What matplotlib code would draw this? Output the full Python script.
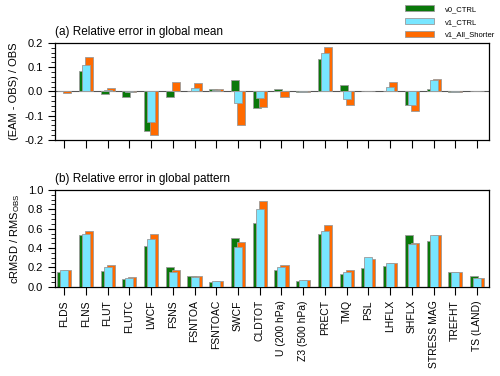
import numpy as np
import matplotlib
matplotlib.use('Agg')
import matplotlib.pyplot as plt
from matplotlib.ticker import MultipleLocator
from matplotlib.patches import Patch

plt.rcParams['font.family'] = ['Liberation Sans', 'DejaVu Sans']
plt.rcParams['mathtext.fontset'] = 'custom'
plt.rcParams['mathtext.rm'] = 'Liberation Sans'

# variables
variables = ['FLDS', 'FLNS', 'FLUT', 'FLUTC', 'LWCF', 'FSNS', 'FSNTOA', 'FSNTOAC',
             'SWCF', 'CLDTOT', 'U (200 hPa)', 'Z3 (500 hPa)', 'PRECT', 'TMQ', 'PSL',
             'LHFLX', 'SHFLX', 'STRESS MAG', 'TREFHT', 'TS (LAND)']

# (a) relative error in global mean
mean_v0 = [0.0, 0.085, -0.010, -0.025, -0.162, -0.025, 0.002, 0.010, 0.048, -0.068,
           0.009, -0.001, 0.133, 0.026, 0.0, 0.002, -0.057, 0.009, -0.001, 0.0]
mean_v1 = [0.0, 0.109, 0.006, -0.003, -0.125, 0.002, 0.014, 0.005, -0.049, -0.028,
           0.0, -0.001, 0.158, -0.032, 0.0, 0.020, -0.056, 0.045, -0.001, 0.0]
mean_short = [-0.006, 0.143, 0.015, -0.002, -0.180, 0.039, 0.035, 0.008, -0.138, -0.066,
              -0.024, -0.001, 0.181, -0.058, 0.0, 0.040, -0.080, 0.050, -0.001, 0.0]

# (b) relative error in global pattern
pat_v0 = [0.155, 0.533, 0.162, 0.080, 0.423, 0.200, 0.113, 0.055, 0.509, 0.660,
          0.179, 0.059, 0.543, 0.131, 0.196, 0.220, 0.533, 0.478, 0.155, 0.113]
pat_v1 = [0.172, 0.550, 0.200, 0.093, 0.490, 0.152, 0.103, 0.058, 0.412, 0.808,
          0.200, 0.069, 0.577, 0.155, 0.306, 0.251, 0.437, 0.540, 0.155, 0.093]
pat_short = [0.172, 0.571, 0.224, 0.097, 0.547, 0.172, 0.109, 0.058, 0.464, 0.887,
             0.224, 0.069, 0.636, 0.172, 0.289, 0.251, 0.457, 0.540, 0.155, 0.093]

labels = ['v0_CTRL', 'v1_CTRL', 'v1_All_Shorter']
colors = ['#0a780a', '#78e6ff', '#ff6a00']
edge = '#9a9a9a'

x = np.arange(len(variables))
w = 0.37
off = 0.14

fig = plt.figure(figsize=(5, 3.76), dpi=100)
ax1 = fig.add_axes([0.11, 0.628, 0.868, 0.258])
ax2 = fig.add_axes([0.11, 0.237, 0.868, 0.258])

def draw(ax, v0, v1, vs):
    # cyan drawn last so it sits on top
    ax.bar(x - off, v0, w, color=colors[0], edgecolor=edge, linewidth=0.6, zorder=2)
    ax.bar(x + off, vs, w, color=colors[2], edgecolor=edge, linewidth=0.6, zorder=3)
    ax.bar(x, v1, w, color=colors[1], edgecolor=edge, linewidth=0.6, zorder=4)
    ax.set_xlim(-0.42, 19.55)
    ax.set_xticks(x)
    ax.tick_params(axis='x', direction='out', length=6, width=0.8)
    ax.tick_params(axis='y', which='major', direction='out', length=5, width=0.8, labelsize=8)
    ax.tick_params(axis='y', which='minor', direction='out', length=3, width=0.6)
    for s in ax.spines.values():
        s.set_linewidth(0.9)

draw(ax1, mean_v0, mean_v1, mean_short)
ax1.axhline(0, color='#555555', linewidth=0.8, zorder=1)
ax1.set_ylim(-0.2, 0.2)
ax1.yaxis.set_major_locator(MultipleLocator(0.1))
ax1.yaxis.set_minor_locator(MultipleLocator(0.02))
ax1.yaxis.set_major_formatter(plt.FuncFormatter(lambda v, p: f'{v:.1f}'.replace('-0.0', '0.0')))
ax1.set_xticklabels([])
ax1.set_ylabel('(EAM - OBS) / OBS', fontsize=8)
ax1.set_title('(a) Relative error in global mean', loc='left', fontsize=8.5, pad=6)

draw(ax2, pat_v0, pat_v1, pat_short)
ax2.set_ylim(0, 1.0)
ax2.yaxis.set_major_locator(MultipleLocator(0.2))
ax2.yaxis.set_minor_locator(MultipleLocator(0.05))
ax2.yaxis.set_major_formatter(plt.FuncFormatter(lambda v, p: f'{v:.1f}'))
ax2.set_xticklabels(variables, rotation=90, fontsize=7.5)
ax2.set_ylabel(r'cRMSD / RMS$_{\mathrm{OBS}}$', fontsize=8)
ax2.set_title('(b) Relative error in global pattern', loc='left', fontsize=8.5, pad=6)

handles = [Patch(facecolor=c, edgecolor=edge, linewidth=0.6) for c in colors]
fig.legend(handles, labels, loc='upper left', bbox_to_anchor=(0.806, 0.99),
           frameon=False, fontsize=5.5, handlelength=3.9, handleheight=0.8,
           handletextpad=1.4, labelspacing=0.7, borderpad=0.2, borderaxespad=0.0)

fig.savefig('out.png', dpi=100)
